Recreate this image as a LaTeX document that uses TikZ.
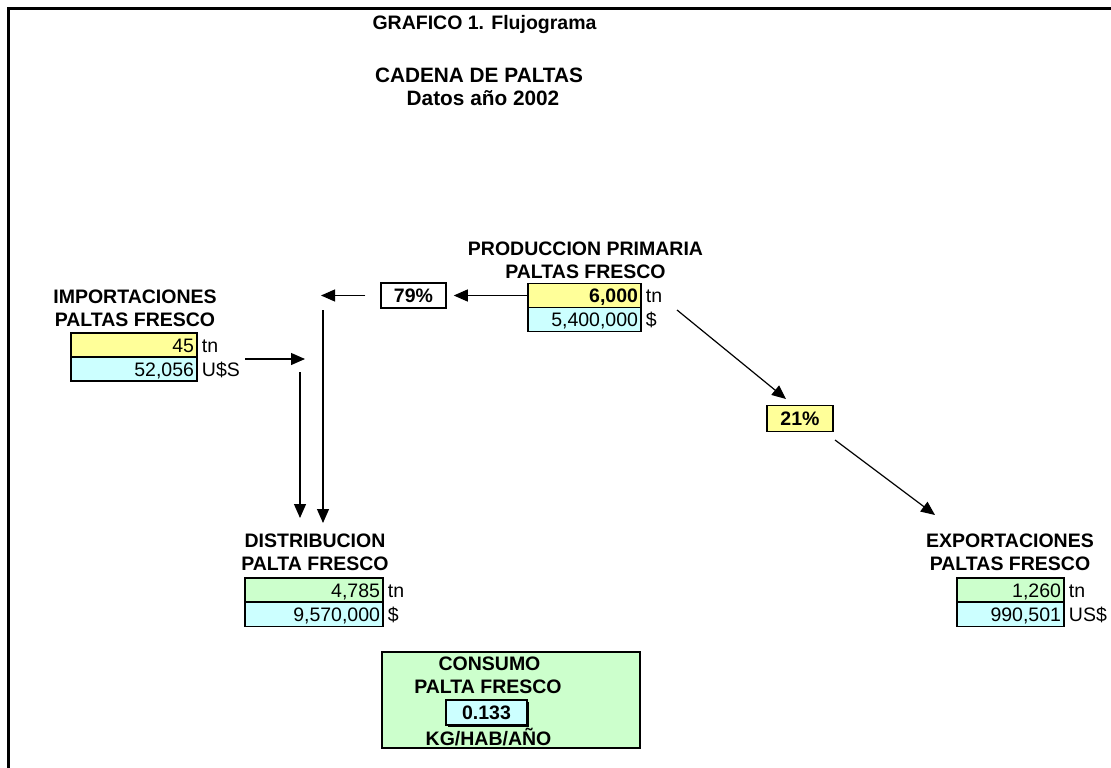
\documentclass[tikz,border=0pt]{standalone}
\usepackage{fontspec}
\setmainfont{Liberation Sans}
\usetikzlibrary{arrows.meta,shadows}

\definecolor{amarillo}{HTML}{FFFF99}
\definecolor{celeste}{HTML}{CCFFFF}
\definecolor{verde}{HTML}{CCFFCC}

\begin{document}
\begin{tikzpicture}[x=1pt,y=-1pt,
  txt/.style={font=\fontsize{19.5}{23}\selectfont},
  hdr/.style={font=\bfseries\fontsize{19.5}{23}\selectfont,align=center,inner sep=0pt},
  cell/.style={draw,line width=1.5pt,txt,minimum height=24pt,inner xsep=3pt,inner ysep=0pt,
    text height=14pt,text depth=0pt,text width=#1,align=right},
  unit/.style={txt,anchor=west,inner sep=0pt,text height=14pt,text depth=0pt},
  pct/.style={draw,line width=1.5pt,font=\bfseries\fontsize{19.5}{23}\selectfont,
    text height=14pt,text depth=0pt},
  arr/.style={-{Triangle[length=14pt,width=12pt]},line width=1.2pt}]
\useasboundingbox (0,0) rectangle (1111,768);
\draw[line width=3pt] (8,768) -- (8,9) -- (1111,9);

\node[hdr,anchor=base] (tit) at (484.5,30) {GRAFICO 1. Flujograma};
\node[hdr,anchor=base,font=\bfseries\fontsize{20.8}{23}\selectfont] (cad) at (479,82) {CADENA DE PALTAS};
\node[hdr,anchor=base,font=\bfseries\fontsize{20.8}{23}\selectfont] (dat) at (483,105) {Datos año 2002};

% produccion
\node[hdr] (prodT) at (585.5,260.5) {PRODUCCION PRIMARIA\\PALTAS FRESCO};
\node[cell=107pt,fill=amarillo] (prodQ) at (584.5,295.5) {\textbf{6,000}};
\node[cell=107pt,fill=celeste] (prodV) at (584.5,319.5) {5,400,000};
\node[unit] (prodU1) at ([xshift=4pt]prodQ.east) {tn};
\node[unit] (prodU2) at ([xshift=4pt]prodV.east) {\$};

% importaciones
\node[hdr] (impT) at (135,308.5) {IMPORTACIONES\\PALTAS FRESCO};
\node[cell=120pt,fill=amarillo] (impQ) at (134,345) {45};
\node[cell=120pt,fill=celeste] (impV) at (134,369) {52,056};
\node[unit] (impU1) at ([xshift=4pt]impQ.east) {tn};
\node[unit] (impU2) at ([xshift=4pt]impV.east) {U\$S};

% distribucion
\node[hdr] (distT) at (315,552.5) {DISTRIBUCION\\PALTA FRESCO};
\node[cell=132pt,fill=verde] (distQ) at (314,590) {4,785};
\node[cell=132pt,fill=celeste] (distV) at (314,614.5) {9,570,000};
\node[unit] (distU1) at ([xshift=4pt]distQ.east) {tn};
\node[unit] (distU2) at ([xshift=4pt]distV.east) {\$};

% exportaciones
\node[hdr] (expT) at (1010,552.5) {EXPORTACIONES\\PALTAS FRESCO};
\node[cell=101pt,fill=verde] (expQ) at (1010.5,590) {1,260};
\node[cell=101pt,fill=celeste] (expV) at (1010.5,614.5) {990,501};
\node[unit] (expU1) at ([xshift=4pt]expQ.east) {tn};
\node[unit] (expU2) at ([xshift=4pt]expV.east) {US\$};

% porcentajes
\node[pct,fill=white,minimum width=65pt,minimum height=25pt] (p79) at (413.5,295.5) {79\%};
\node[pct,fill=amarillo,minimum width=66pt,minimum height=26pt] (p21) at (800,418.5) {21\%};

% consumo
\node[draw,line width=1.5pt,fill=verde,minimum width=258pt,minimum height=96pt] (cons) at (511,700) {};
\node[hdr,anchor=base] (consA) at (489.5,670) {CONSUMO};
\node[hdr,anchor=base] (consB) at (488,693) {PALTA FRESCO};
\node[pct,fill=celeste,minimum width=81pt,minimum height=25pt,
  drop shadow={shadow xshift=1.5pt,shadow yshift=-1.5pt,fill=black,opacity=1}] (consV) at (486.5,712.5) {0.133};
\node[hdr,anchor=base] (consC) at (488.5,745) {KG/HAB/AÑO};

% flechas
\coordinate (s79) at (321,295.5);
\coordinate (v1a) at (323,310);
\coordinate (v1b) at (323,523);
\coordinate (iA) at (245,359);
\coordinate (iB) at (305,359);
\coordinate (v2a) at (300,372);
\coordinate (v2b) at (300,518);
\coordinate (d1a) at (677,310);
\coordinate (d1b) at (786,399);
\coordinate (d2a) at (835,440);
\coordinate (d2b) at (935,515);
\draw[arr,shorten >=7pt] (prodQ) -- (p79);
\draw[arr,shorten <=15pt] (p79) -- (s79);
\draw[arr] (v1a) -- (v1b);
\draw[arr] (iA) -- (iB);
\draw[arr] (v2a) -- (v2b);
\draw[arr] (d1a) -- (d1b);
\draw[arr] (d2a) -- (d2b);
\end{tikzpicture}
\end{document}
